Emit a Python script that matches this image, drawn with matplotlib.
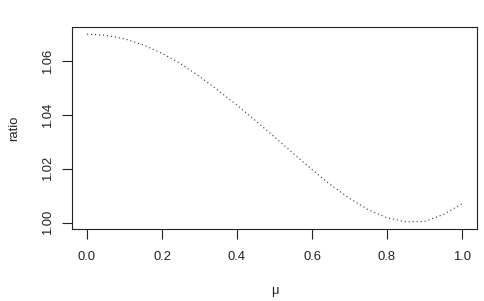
import matplotlib as mpl
mpl.use('Agg')
import matplotlib.pyplot as plt
import numpy as np

# values
mu = [0.00, 0.05, 0.10, 0.15, 0.20, 0.25, 0.30, 0.35, 0.40, 0.45, 0.50,
      0.55, 0.60, 0.65, 0.70, 0.75, 0.80, 0.85, 0.90, 0.95, 1.00]
ratio = [1.0700, 1.0696, 1.0683, 1.0660, 1.0629, 1.0590, 1.0543, 1.0491,
         1.0436, 1.0378, 1.0318, 1.0257, 1.0197, 1.0140, 1.0090, 1.0048,
         1.0018, 1.0003, 1.0004, 1.0030, 1.0070]
xticks = [0.0, 0.2, 0.4, 0.6, 0.8, 1.0]
yticks = [1.00, 1.02, 1.04, 1.06]

plt.rcParams['font.family'] = ['Liberation Sans', 'DejaVu Sans']

fig = plt.figure(figsize=(4.84, 3.01), dpi=100)
ax = fig.add_axes([72 / 484, 1 - 229.3 / 301, 405 / 484, 202.6 / 301])

ax.plot(mu, ratio, color='#333333', linewidth=0.8, linestyle=(0, (1, 2.6)))

span = max(ratio) - min(ratio)
ax.set_xlim(-0.04, 1.04)
ax.set_ylim(min(ratio) - 0.04 * span, max(ratio) + 0.04 * span)

ax.set_xticks(xticks)
ax.set_xticklabels(['%.1f' % t for t in xticks])
ax.set_yticks(yticks)
ax.set_yticklabels(['%.2f' % t for t in yticks], rotation=90, va='center')
ax.tick_params(direction='out', length=7, width=0.8, labelsize=9.4,
               colors='#222222')
ax.tick_params(axis='x', pad=8.5)
ax.tick_params(axis='y', pad=6)

for s in ax.spines.values():
    s.set_linewidth(0.8)
    s.set_color('#222222')

ax.set_xlabel('μ', fontsize=9.4, labelpad=16, color='#222222')
ax.set_ylabel('ratio', fontsize=9.4, labelpad=16, color='#222222')

plt.savefig('out.png', dpi=100)
